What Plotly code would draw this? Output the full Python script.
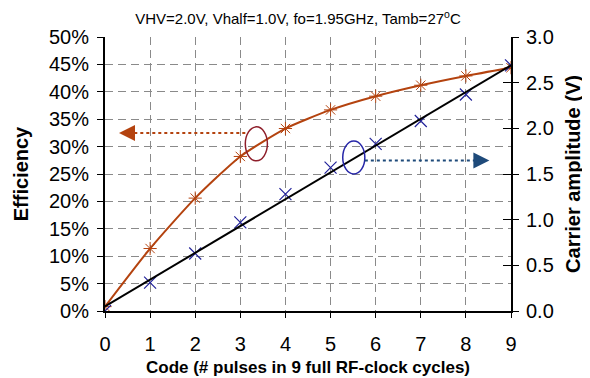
import plotly.graph_objects as go

codes = [0, 1, 2, 3, 4, 5, 6, 7, 8, 9]
efficiency = [0.8, 11.4, 20.6, 28.2, 33.3, 36.7, 39.2, 41.2, 42.9, 44.4]
amplitude = [0.0, 0.31, 0.63, 0.97, 1.28, 1.57, 1.83, 2.08, 2.37, 2.69]
fit_x = [0, 9]
fit_y = [0.05, 2.69]

eff_ticks = [0, 5, 10, 15, 20, 25, 30, 35, 40, 45, 50]
eff_labels = [f"{v}%" for v in eff_ticks]
amp_ticks = [0, 0.5, 1.0, 1.5, 2.0, 2.5, 3.0]
amp_labels = [f"{v:.1f}" for v in amp_ticks]

ORANGE = "#B4430F"
NAVY = "#22229A"
FONT = "Liberation Sans, Arial, Helvetica, sans-serif"

fig = go.Figure()

fig.add_trace(go.Scatter(
    x=codes, y=efficiency, mode="lines+markers", line=dict(color=ORANGE, width=2, shape="spline", smoothing=0.6),
    marker=dict(symbol="asterisk-open", size=11, color=ORANGE, line=dict(color=ORANGE, width=1)),
    yaxis="y", showlegend=False, hoverinfo="skip"))

fig.add_trace(go.Scatter(
    x=codes, y=amplitude, mode="markers",
    marker=dict(symbol="x-thin-open", size=12, color=NAVY, line=dict(color=NAVY, width=1.2)),
    yaxis="y2", showlegend=False, hoverinfo="skip"))

fig.add_trace(go.Scatter(
    x=fit_x, y=fit_y, mode="lines", line=dict(color="black", width=2),
    yaxis="y2", showlegend=False, hoverinfo="skip"))

# inside part of the right-axis ticks
fig.add_trace(go.Scatter(x=[None], y=[None], yaxis="y3", showlegend=False))

grid = dict(showgrid=True, gridcolor="#8a8a8a", gridwidth=1, griddash="8px,5px")

fig.update_layout(
    width=590, height=378,
    margin=dict(l=95, r=87, t=29, b=74),
    paper_bgcolor="white", plot_bgcolor="white",
    font=dict(family=FONT, color="black"),
    title=dict(text="VHV=2.0V, Vhalf=1.0V, fo=1.95GHz, Tamb=27<sup>o</sup>C",
               x=290/590, xanchor="center", y=1-11/378, yanchor="middle",
               font=dict(size=15, family=FONT)),
    xaxis=dict(range=[0, 9], tickvals=codes, ticktext=[str(c) for c in codes],
               showline=True, linecolor="black", linewidth=2, ticks="outside", ticklen=5,
               tickcolor="black", tickfont=dict(size=20), zeroline=False, ticklabelstandoff=9,
               title=dict(text="<b>Code (# pulses in 9 full RF-clock cycles)</b>", font=dict(size=17), standoff=7),
               **grid),
    yaxis=dict(range=[0, 50], tickvals=eff_ticks, ticktext=eff_labels,
               showline=True, linecolor="black", linewidth=2, ticks="outside", ticklen=6,
               tickcolor="black", tickfont=dict(size=20), zeroline=False, ticklabelstandoff=4,
               title=dict(text="<b>Efficiency</b>", font=dict(size=20), standoff=15),
               **grid),
    yaxis2=dict(range=[0, 3], tickvals=amp_ticks, ticktext=amp_labels, overlaying="y", side="right",
                showline=True, linecolor="black", linewidth=2, ticks="outside", ticklen=6,
                tickcolor="black", tickfont=dict(size=20), zeroline=False, showgrid=False,
                ticklabelstandoff=3,
                title=dict(text="<b>Carrier amplitude (V)</b>", font=dict(size=20), standoff=13)),
    yaxis3=dict(range=[0, 3], tickvals=amp_ticks, overlaying="y", side="right", anchor="x",
                showline=False, ticks="inside", ticklen=8, tickcolor="black",
                showticklabels=False, showgrid=False, zeroline=False),
)

# ellipses
fig.add_shape(type="circle", xref="x", yref="y", x0=3.11, x1=3.60, y0=27.4, y1=33.6,
              line=dict(color="#8E1E2A", width=1.5))
fig.add_shape(type="circle", xref="x", yref="y2", x0=5.27, x1=5.76, y0=1.50, y1=1.86,
              line=dict(color="#2626A8", width=1.5))

# dotted arrows
fig.add_shape(type="line", xref="x", yref="y", x0=3.11, x1=0.45, y0=32.5, y1=32.5,
              line=dict(color=ORANGE, width=2, dash="dot"))
fig.add_annotation(x=0.31, y=32.5, xref="x", yref="y", ax=0.6, ay=32.5, axref="x", ayref="y",
                   showarrow=True, arrowhead=2, arrowsize=1.6, arrowwidth=2, arrowcolor=ORANGE, text="")
fig.add_shape(type="line", xref="x", yref="y2", x0=5.76, x1=8.35, y0=1.647, y1=1.647,
              line=dict(color="#1E4A7A", width=2, dash="dot"))
fig.add_annotation(x=8.52, y=1.647, xref="x", yref="y2", ax=8.2, ay=1.647, axref="x", ayref="y2",
                   showarrow=True, arrowhead=2, arrowsize=1.6, arrowwidth=2, arrowcolor="#1E4A7A", text="")

fig.write_html("out.html")
